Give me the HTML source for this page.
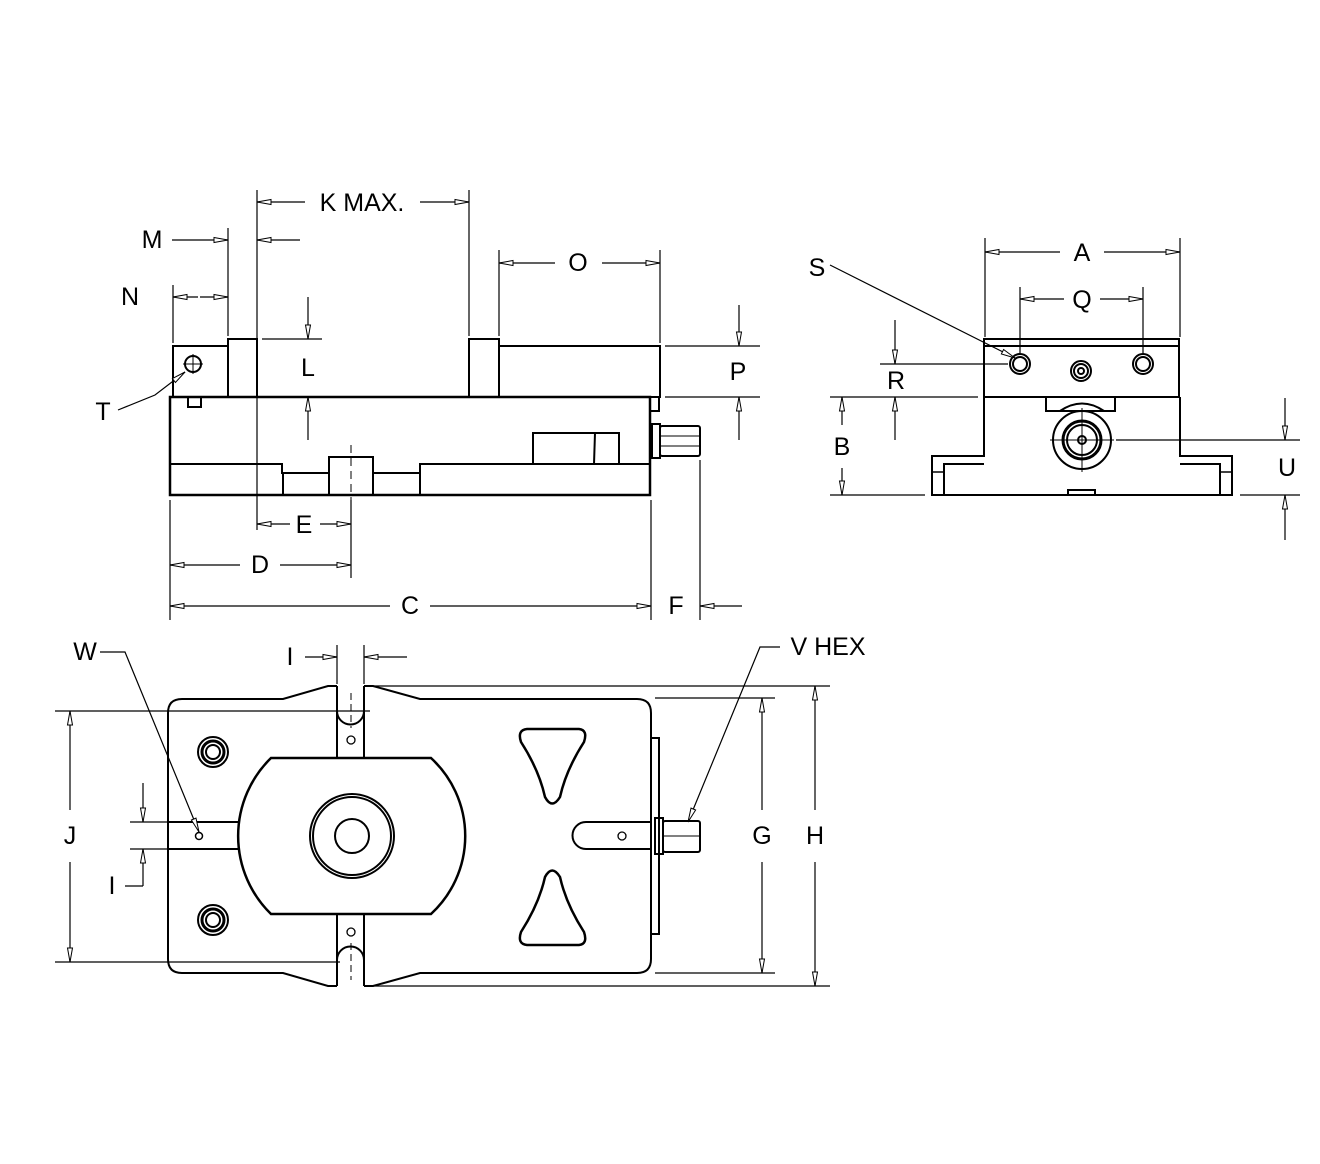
<!DOCTYPE html>
<html><head><meta charset="utf-8"><style>
html,body{margin:0;padding:0;background:#fff;}
svg{display:block;}
text{font-family:"Liberation Sans",sans-serif;font-size:25px;fill:#000;text-anchor:middle;dominant-baseline:central;}
</style></head><body>
<svg width="1320" height="1164" viewBox="0 0 1320 1164" xmlns="http://www.w3.org/2000/svg">
<defs>
<marker id="a" markerWidth="16" markerHeight="8" refX="15" refY="4" orient="auto" markerUnits="userSpaceOnUse">
<path d="M1,1.5 L15,4 L1,6.5 Z" fill="#fff" stroke="#000" stroke-width="1"/>
</marker>
</defs>
<g fill="none" stroke="#000" stroke-width="2">
<!-- FRONT VIEW -->
<rect x="173" y="346" width="55" height="51"/>
<rect x="228" y="339" width="29" height="58"/>
<rect x="469" y="339" width="30" height="58"/>
<rect x="499" y="346" width="161" height="51"/>
<path d="M170,397 H650 V495 H170 Z" stroke-width="2.5"/>
<path d="M650,397 H659 V411 H650"/>
<path d="M188,397 V407 H201 V397"/>
<path d="M170,464 H282 V473 H329 V457 H373 V473 H420 V464 H650"/>
<line x1="283" y1="473" x2="283" y2="495"/><line x1="329" y1="473" x2="329" y2="495"/><line x1="373" y1="473" x2="373" y2="495"/><line x1="420" y1="473" x2="420" y2="495"/>
<rect x="533" y="433" width="86" height="31"/><line x1="595" y1="433" x2="594" y2="464"/>
<rect x="652" y="424" width="8" height="34"/>
<rect x="660" y="426" width="40" height="30" rx="2"/>
<line x1="660" y1="436" x2="700" y2="436" stroke-width="1"/><line x1="660" y1="446" x2="700" y2="446" stroke-width="1"/>
<circle cx="193" cy="364" r="8"/>
<line x1="193" y1="354" x2="193" y2="374" stroke-width="1"/><line x1="183" y1="364" x2="203" y2="364" stroke-width="1"/>
<line x1="351" y1="445" x2="351" y2="500" stroke-dasharray="8,5" stroke-width="1"/>

<!-- END VIEW -->
<rect x="984" y="339" width="195" height="58"/>
<line x1="984" y1="346" x2="1179" y2="346"/>
<path d="M984,397 V456 H932 V495 H1232 V456 H1180 V397"/>
<path d="M944,495 V464 H984 M1220,495 V464 H1180"/>
<path d="M932,472 H944 M1220,472 H1232" stroke-width="1.5"/>
<path d="M1040,397 H1046 V411 H1115 V397 H1121"/>
<path d="M1060,411 Q1082,396 1104,411"/>
<rect x="1068" y="490" width="27" height="5"/>
<circle cx="1082" cy="440" r="29"/><circle cx="1082" cy="440" r="19" stroke-width="3"/><circle cx="1082" cy="440" r="15"/><circle cx="1082" cy="440" r="4"/>
<line x1="1082" y1="408" x2="1082" y2="472" stroke-width="1"/><line x1="1050" y1="440" x2="1114" y2="440" stroke-width="1"/>
<circle cx="1020" cy="364" r="10"/><circle cx="1020" cy="364" r="7"/>
<circle cx="1143" cy="364" r="10"/><circle cx="1143" cy="364" r="7"/>
<circle cx="1081" cy="371" r="10"/><circle cx="1081" cy="371" r="7"/><circle cx="1081" cy="371" r="3"/>

<!-- TOP VIEW -->
<path d="M337,686 H328 L283,699 H182 Q168,699 168,713 V959 Q168,973 182,973 H283 L328,986 H337"/>
<path d="M364,686 H373 L420,699 H637 Q651,699 651,713 V959 Q651,973 637,973 H420 L373,986 H364"/>
<line x1="337" y1="686" x2="337" y2="758"/><line x1="364" y1="686" x2="364" y2="758"/>
<line x1="337" y1="914" x2="337" y2="986"/><line x1="364" y1="914" x2="364" y2="986"/>
<path d="M337,711 A13,13 0 0 0 364,711"/><path d="M337,960 A13,13 0 0 1 364,960"/>
<line x1="351" y1="693" x2="351" y2="728" stroke-dasharray="7,4" stroke-width="1"/>
<line x1="351" y1="943" x2="351" y2="980" stroke-dasharray="7,4" stroke-width="1"/>
<circle cx="351" cy="740" r="4" stroke-width="1.3"/><circle cx="351" cy="932" r="4" stroke-width="1.3"/>
<path d="M271,758 H431 A106,106 0 0 1 431,914 H271 A109,109 0 0 1 271,758 Z" stroke-width="2.5"/>
<circle cx="352" cy="836" r="42"/><circle cx="352" cy="836" r="39"/><circle cx="352" cy="836" r="17"/>
<circle cx="213" cy="752" r="15"/><circle cx="213" cy="752" r="11" stroke-width="3"/><circle cx="213" cy="752" r="7"/>
<circle cx="213" cy="920" r="15"/><circle cx="213" cy="920" r="11" stroke-width="3"/><circle cx="213" cy="920" r="7"/>
<line x1="168" y1="822" x2="238" y2="822"/><line x1="168" y1="849" x2="238" y2="849"/>
<circle cx="199" cy="836" r="3.5" stroke-width="1.5"/>
<path d="M527,729 H579 Q588,730 584,742 Q566,770 560,797 Q552,810 545,797 Q539,770 521,742 Q517,730 527,729 Z" stroke-width="2.5"/>
<path d="M527,945 H579 Q588,944 584,932 Q566,904 560,877 Q552,864 545,877 Q539,904 521,932 Q517,944 527,945 Z" stroke-width="2.5"/>
<path d="M651,822 H586 A13.5,13.5 0 0 0 586,849 H651"/>
<circle cx="622" cy="836" r="4" stroke-width="1.3"/>
<rect x="651" y="738" width="8" height="196"/>
<rect x="655" y="818" width="8" height="36"/>
<rect x="663" y="821" width="37" height="31" rx="2"/>
<line x1="663" y1="836" x2="700" y2="836" stroke-width="1"/>
</g>

<!-- DIMENSIONS -->
<g fill="none" stroke="#000" stroke-width="1.2">
<line x1="257" y1="190" x2="257" y2="530"/>
<line x1="469" y1="190" x2="469" y2="336"/>
<line x1="228" y1="228" x2="228" y2="336"/>
<line x1="173" y1="285" x2="173" y2="343"/>
<line x1="499" y1="250" x2="499" y2="336"/>
<line x1="660" y1="250" x2="660" y2="343"/>
<line x1="262" y1="339" x2="322" y2="339"/>
<line x1="665" y1="346" x2="760" y2="346"/>
<line x1="665" y1="397" x2="760" y2="397"/>
<line x1="351" y1="500" x2="351" y2="578"/>
<line x1="170" y1="500" x2="170" y2="620"/>
<line x1="651" y1="500" x2="651" y2="620"/>
<line x1="700" y1="460" x2="700" y2="620"/>
<line x1="985" y1="238" x2="985" y2="337"/>
<line x1="1180" y1="238" x2="1180" y2="337"/>
<line x1="1020" y1="287" x2="1020" y2="353"/>
<line x1="1143" y1="287" x2="1143" y2="353"/>
<line x1="880" y1="364" x2="1008" y2="364"/>
<line x1="830" y1="397" x2="978" y2="397"/>
<line x1="830" y1="495" x2="925" y2="495"/>
<line x1="1116" y1="440" x2="1300" y2="440"/>
<line x1="1240" y1="495" x2="1300" y2="495"/>
<line x1="337" y1="645" x2="337" y2="684"/>
<line x1="364" y1="645" x2="364" y2="684"/>
<line x1="55" y1="711" x2="370" y2="711"/>
<line x1="55" y1="962" x2="340" y2="962"/>
<line x1="130" y1="822" x2="168" y2="822"/>
<line x1="130" y1="849" x2="168" y2="849"/>
<line x1="373" y1="686" x2="830" y2="686"/>
<line x1="373" y1="986" x2="830" y2="986"/>
<line x1="655" y1="698" x2="775" y2="698"/>
<line x1="655" y1="973" x2="775" y2="973"/>
<line x1="305" y1="202" x2="257" y2="202" marker-end="url(#a)"/>
<line x1="420" y1="202" x2="469" y2="202" marker-end="url(#a)"/>
<line x1="172" y1="240" x2="228" y2="240" marker-end="url(#a)"/>
<line x1="300" y1="240" x2="257" y2="240" marker-end="url(#a)"/>
<line x1="198" y1="297" x2="173" y2="297" marker-end="url(#a)"/>
<line x1="200" y1="297" x2="228" y2="297" marker-end="url(#a)"/>
<line x1="555" y1="263" x2="499" y2="263" marker-end="url(#a)"/>
<line x1="602" y1="263" x2="660" y2="263" marker-end="url(#a)"/>
<line x1="308" y1="297" x2="308" y2="339" marker-end="url(#a)"/>
<line x1="308" y1="440" x2="308" y2="397" marker-end="url(#a)"/>
<line x1="739" y1="305" x2="739" y2="346" marker-end="url(#a)"/>
<line x1="739" y1="440" x2="739" y2="397" marker-end="url(#a)"/>
<line x1="290" y1="524" x2="257" y2="524" marker-end="url(#a)"/>
<line x1="320" y1="524" x2="351" y2="524" marker-end="url(#a)"/>
<line x1="240" y1="565" x2="170" y2="565" marker-end="url(#a)"/>
<line x1="280" y1="565" x2="351" y2="565" marker-end="url(#a)"/>
<line x1="390" y1="606" x2="170" y2="606" marker-end="url(#a)"/>
<line x1="430" y1="606" x2="651" y2="606" marker-end="url(#a)"/>
<line x1="742" y1="606" x2="700" y2="606" marker-end="url(#a)"/>
<line x1="1060" y1="252" x2="985" y2="252" marker-end="url(#a)"/>
<line x1="1104" y1="252" x2="1180" y2="252" marker-end="url(#a)"/>
<line x1="1064" y1="299" x2="1020" y2="299" marker-end="url(#a)"/>
<line x1="1100" y1="299" x2="1143" y2="299" marker-end="url(#a)"/>
<line x1="895" y1="320" x2="895" y2="364" marker-end="url(#a)"/>
<line x1="895" y1="440" x2="895" y2="397" marker-end="url(#a)"/>
<line x1="842" y1="425" x2="842" y2="397" marker-end="url(#a)"/>
<line x1="842" y1="468" x2="842" y2="495" marker-end="url(#a)"/>
<line x1="1285" y1="398" x2="1285" y2="440" marker-end="url(#a)"/>
<line x1="1285" y1="540" x2="1285" y2="495" marker-end="url(#a)"/>
<line x1="305" y1="657" x2="337" y2="657" marker-end="url(#a)"/>
<line x1="407" y1="657" x2="364" y2="657" marker-end="url(#a)"/>
<line x1="70" y1="810" x2="70" y2="711" marker-end="url(#a)"/>
<line x1="70" y1="862" x2="70" y2="962" marker-end="url(#a)"/>
<line x1="143" y1="783" x2="143" y2="822" marker-end="url(#a)"/>
<line x1="143" y1="886" x2="143" y2="849" marker-end="url(#a)"/>
<line x1="125" y1="886" x2="143" y2="886"/>
<line x1="762" y1="810" x2="762" y2="698" marker-end="url(#a)"/>
<line x1="762" y1="862" x2="762" y2="973" marker-end="url(#a)"/>
<line x1="815" y1="810" x2="815" y2="686" marker-end="url(#a)"/>
<line x1="815" y1="862" x2="815" y2="986" marker-end="url(#a)"/>
<polyline points="118,410 155,395 185,372" marker-end="url(#a)"/>
<polyline points="830,265 1015,358" marker-end="url(#a)"/>
<polyline points="100,652 125,652 199,832" marker-end="url(#a)"/>
<polyline points="780,647 760,647 688,822" marker-end="url(#a)"/>
</g>
<g>
<text x="362" y="203">K MAX.</text>
<text x="152" y="240">M</text>
<text x="130" y="297">N</text>
<text x="578" y="263">O</text>
<text x="308" y="368">L</text>
<text x="738" y="372">P</text>
<text x="103" y="412">T</text>
<text x="304" y="525">E</text>
<text x="260" y="565">D</text>
<text x="410" y="606">C</text>
<text x="676" y="606">F</text>
<text x="1082" y="253">A</text>
<text x="1082" y="300">Q</text>
<text x="817" y="268">S</text>
<text x="896" y="381">R</text>
<text x="842" y="447">B</text>
<text x="1287" y="468">U</text>
<text x="290" y="657">I</text>
<text x="85" y="652">W</text>
<text x="70" y="836">J</text>
<text x="112" y="886">I</text>
<text x="762" y="836">G</text>
<text x="815" y="836">H</text>
<text x="828" y="647">V HEX</text>
</g>
</svg>
</body></html>
